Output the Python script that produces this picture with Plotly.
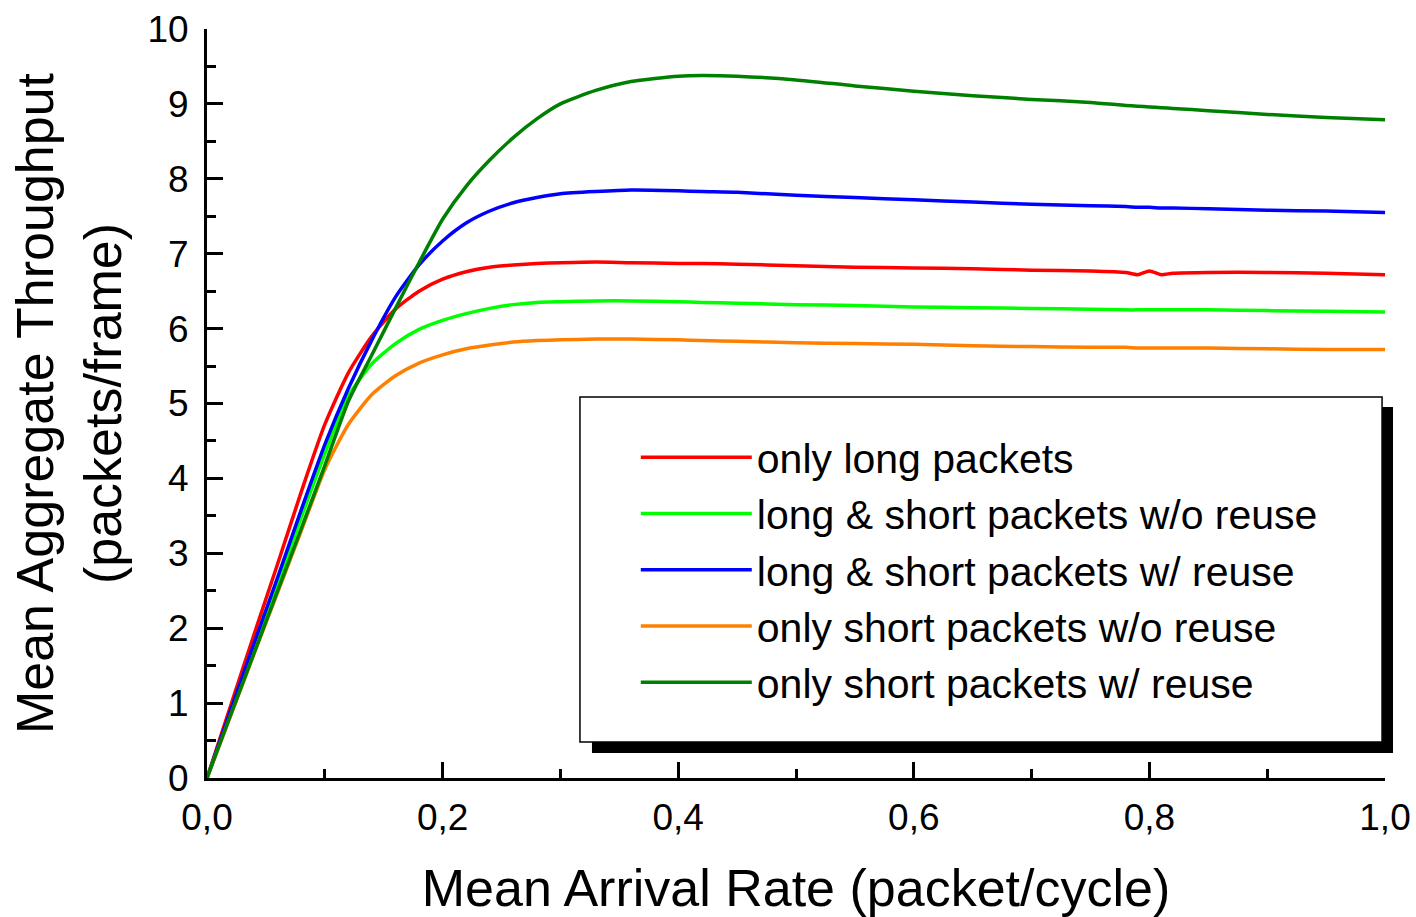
import plotly.graph_objects as go

# ---- data ----
x_rate = [0.0, 0.02, 0.04, 0.06, 0.08, 0.10, 0.12, 0.14, 0.16, 0.18, 0.20, 0.22, 0.24, 0.26,
          0.28, 0.30, 0.33, 0.36, 0.40, 0.42, 0.45, 0.50, 0.55, 0.60, 0.65, 0.70, 0.75, 0.78,
          0.79, 0.80, 0.81, 0.82, 0.85, 0.90, 0.95, 1.0]

only_long = [0.0, 0.96, 1.92, 2.86, 3.82, 4.72, 5.41, 5.9, 6.26, 6.5, 6.66, 6.76, 6.82, 6.85,
             6.87, 6.88, 6.89, 6.88, 6.87, 6.87, 6.86, 6.84, 6.82, 6.81, 6.80, 6.78, 6.77, 6.75,
             6.72, 6.77, 6.72, 6.74, 6.75, 6.75, 6.74, 6.72]

long_short_no_reuse = [0.0, 0.87, 1.74, 2.6, 3.48, 4.33, 5.1, 5.53, 5.8, 5.99, 6.11, 6.2,
                       6.27, 6.32, 6.35, 6.36, 6.37, 6.37, 6.36, 6.35, 6.34, 6.32, 6.31, 6.29,
                       6.28, 6.27, 6.26, 6.25, 6.25, 6.25, 6.25, 6.25, 6.25, 6.24, 6.23, 6.22]

long_short_reuse = [0.0, 0.9, 1.8, 2.68, 3.58, 4.45, 5.2, 5.85, 6.42, 6.85, 7.17, 7.41, 7.57, 7.68,
                    7.75, 7.8, 7.83, 7.85, 7.84, 7.83, 7.82, 7.78, 7.75, 7.72, 7.69, 7.66, 7.64,
                    7.63, 7.62, 7.62, 7.61, 7.61, 7.6, 7.58, 7.57, 7.55]

only_short_no_reuse = [0.0, 0.83, 1.66, 2.48, 3.3, 4.12, 4.72, 5.12, 5.37, 5.54, 5.65, 5.73, 5.78,
                       5.82, 5.84, 5.85, 5.86, 5.86, 5.85, 5.84, 5.83, 5.81, 5.80, 5.79, 5.77,
                       5.76, 5.75, 5.75, 5.74, 5.74, 5.74, 5.74, 5.74, 5.73, 5.72, 5.72]

only_short_reuse = [0.0, 0.84, 1.67, 2.5, 3.33, 4.17, 5.03, 5.65, 6.27, 6.88, 7.46, 7.9, 8.25,
                    8.55, 8.8, 9.0, 9.18, 9.3, 9.37, 9.38, 9.37, 9.32, 9.24, 9.17, 9.11, 9.06,
                    9.02, 8.98, 8.97, 8.96, 8.95, 8.94, 8.91, 8.86, 8.82, 8.79]

series_names = ["only long packets",
                "long &amp; short packets w/o reuse",
                "long &amp; short packets w/ reuse",
                "only short packets w/o reuse",
                "only short packets w/ reuse"]
series_values = [only_long, long_short_no_reuse, long_short_reuse,
                 only_short_no_reuse, only_short_reuse]
series_colors = ["#ff0000", "#00ff00", "#0000ff", "#ff8000", "#008000"]

FONT = "Liberation Sans, Arial, sans-serif"

fig = go.Figure()
for name, vals, col in zip(series_names, series_values, series_colors):
    fig.add_trace(go.Scatter(x=x_rate, y=vals, mode="lines", name=name,
                             line=dict(color=col, width=3.5, shape="spline", smoothing=0.6)))

# legend frame with drop shadow
fig.add_shape(type="rect", xref="paper", yref="paper",
              x0=0.3268, x1=1.0068, y0=0.0334, y1=0.4953,
              fillcolor="black", line=dict(width=0), layer="above")
fig.add_shape(type="rect", xref="paper", yref="paper",
              x0=0.3166, x1=0.9975, y0=0.0481, y1=0.5087,
              fillcolor="white", line=dict(color="black", width=1.5), layer="above")

fig.update_layout(
    width=1416, height=917, autosize=False,
    margin=dict(l=207, r=31, t=29, b=139),
    paper_bgcolor="white", plot_bgcolor="white",
    separators=",.",
    font=dict(family=FONT, color="black"),
    legend=dict(x=0.364, y=0.4726, xanchor="left", yanchor="top",
                bgcolor="rgba(0,0,0,0)", borderwidth=0,
                font=dict(family=FONT, size=41, color="black"),
                itemwidth=111),
    xaxis=dict(range=[0, 1], dtick=0.2, tick0=0, tickformat=".1f",
               automargin=False,
               showgrid=False, zeroline=False,
               showline=True, linecolor="black", linewidth=3,
               ticks="inside", ticklen=16, tickwidth=3, tickcolor="black",
               minor=dict(ticks="inside", ticklen=9, tickwidth=3, dtick=0.1, tickcolor="black"),
               tickfont=dict(family=FONT, size=37), ticklabelstandoff=5,
               title=dict(text="Mean Arrival Rate (packet/cycle)",
                          font=dict(family=FONT, size=52), standoff=33)),
    yaxis=dict(range=[0, 10], dtick=1, tick0=0,
               automargin=False,
               showgrid=False, zeroline=False,
               showline=True, linecolor="black", linewidth=3,
               ticks="inside", ticklen=16, tickwidth=3, tickcolor="black",
               minor=dict(ticks="inside", ticklen=9, tickwidth=3, dtick=0.5, tickcolor="black"),
               tickfont=dict(family=FONT, size=37), ticklabelstandoff=8,
               title=dict(text="Mean Aggregate Throughput<br>(packets/frame)",
                          font=dict(family=FONT, size=52), standoff=10)),
)

# remove the browser's default 8px body margin so the 1416x917 figure fills the window exactly
fig.write_html("out.html",
               config={"displayModeBar": False},
               post_script="document.body.style.margin='0';"
                           "document.documentElement.style.overflow='hidden';")
